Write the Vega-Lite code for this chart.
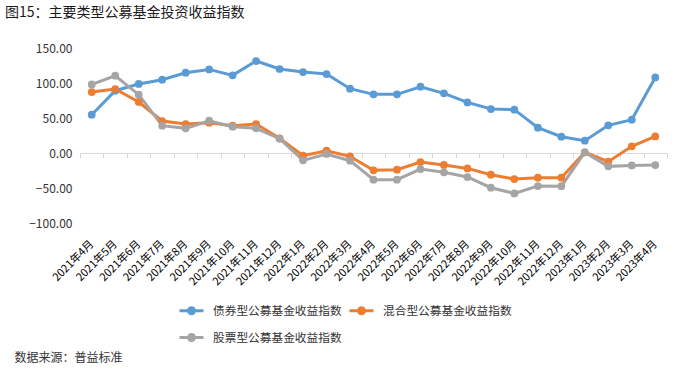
{
  "$schema": "https://vega.github.io/schema/vega-lite/v6.json",
  "width": 587,
  "height": 175,
  "autosize": {"type": "none"},
  "padding": {"left": 80, "top": 48, "right": 11, "bottom": 156},
  "background": "white",
  "title": {
    "text": "图15：主要类型公募基金投资收益指数",
    "anchor": "start",
    "frame": "group",
    "dx": -75,
    "offset": 22,
    "fontSize": 14,
    "fontWeight": "normal",
    "color": "#1a1a1a",
    "font": "Noto Sans CJK SC"
  },
  "data": {
    "values": [
      {"m": "2021年4月", "s": "债券型公募基金收益指数", "v": 54.7},
      {"m": "2021年5月", "s": "债券型公募基金收益指数", "v": 89.0},
      {"m": "2021年6月", "s": "债券型公募基金收益指数", "v": 98.6},
      {"m": "2021年7月", "s": "债券型公募基金收益指数", "v": 104.7},
      {"m": "2021年8月", "s": "债券型公募基金收益指数", "v": 114.7},
      {"m": "2021年9月", "s": "债券型公募基金收益指数", "v": 119.4},
      {"m": "2021年10月", "s": "债券型公募基金收益指数", "v": 110.9},
      {"m": "2021年11月", "s": "债券型公募基金收益指数", "v": 131.4},
      {"m": "2021年12月", "s": "债券型公募基金收益指数", "v": 120.0},
      {"m": "2022年1月", "s": "债券型公募基金收益指数", "v": 115.7},
      {"m": "2022年2月", "s": "债券型公募基金收益指数", "v": 112.8},
      {"m": "2022年3月", "s": "债券型公募基金收益指数", "v": 91.9},
      {"m": "2022年4月", "s": "债券型公募基金收益指数", "v": 83.8},
      {"m": "2022年5月", "s": "债券型公募基金收益指数", "v": 83.8},
      {"m": "2022年6月", "s": "债券型公募基金收益指数", "v": 94.7},
      {"m": "2022年7月", "s": "债券型公募基金收益指数", "v": 85.2},
      {"m": "2022年8月", "s": "债券型公募基金收益指数", "v": 72.3},
      {"m": "2022年9月", "s": "债券型公募基金收益指数", "v": 62.8},
      {"m": "2022年10月", "s": "债券型公募基金收益指数", "v": 61.9},
      {"m": "2022年11月", "s": "债券型公募基金收益指数", "v": 36.1},
      {"m": "2022年12月", "s": "债券型公募基金收益指数", "v": 23.3},
      {"m": "2023年1月", "s": "债券型公募基金收益指数", "v": 17.6},
      {"m": "2023年2月", "s": "债券型公募基金收益指数", "v": 39.5},
      {"m": "2023年3月", "s": "债券型公募基金收益指数", "v": 47.6},
      {"m": "2023年4月", "s": "债券型公募基金收益指数", "v": 108.0},
      {"m": "2021年4月", "s": "混合型公募基金收益指数", "v": 87.1},
      {"m": "2021年5月", "s": "混合型公募基金收益指数", "v": 91.4},
      {"m": "2021年6月", "s": "混合型公募基金收益指数", "v": 72.9},
      {"m": "2021年7月", "s": "混合型公募基金收益指数", "v": 45.7},
      {"m": "2021年8月", "s": "混合型公募基金收益指数", "v": 41.4},
      {"m": "2021年9月", "s": "混合型公募基金收益指数", "v": 43.3},
      {"m": "2021年10月", "s": "混合型公募基金收益指数", "v": 39.0},
      {"m": "2021年11月", "s": "混合型公募基金收益指数", "v": 41.4},
      {"m": "2021年12月", "s": "混合型公募基金收益指数", "v": 21.0},
      {"m": "2022年1月", "s": "混合型公募基金收益指数", "v": -3.9},
      {"m": "2022年2月", "s": "混合型公募基金收益指数", "v": 3.3},
      {"m": "2022年3月", "s": "混合型公募基金收益指数", "v": -4.8},
      {"m": "2022年4月", "s": "混合型公募基金收益指数", "v": -24.8},
      {"m": "2022年5月", "s": "混合型公募基金收益指数", "v": -23.9},
      {"m": "2022年6月", "s": "混合型公募基金收益指数", "v": -12.9},
      {"m": "2022年7月", "s": "混合型公募基金收益指数", "v": -17.1},
      {"m": "2022年8月", "s": "混合型公募基金收益指数", "v": -22.0},
      {"m": "2022年9月", "s": "混合型公募基金收益指数", "v": -31.0},
      {"m": "2022年10月", "s": "混合型公募基金收益指数", "v": -37.2},
      {"m": "2022年11月", "s": "混合型公募基金收益指数", "v": -35.3},
      {"m": "2022年12月", "s": "混合型公募基金收益指数", "v": -35.3},
      {"m": "2023年1月", "s": "混合型公募基金收益指数", "v": 0.9},
      {"m": "2023年2月", "s": "混合型公募基金收益指数", "v": -12.4},
      {"m": "2023年3月", "s": "混合型公募基金收益指数", "v": 9.5},
      {"m": "2023年4月", "s": "混合型公募基金收益指数", "v": 23.7},
      {"m": "2021年4月", "s": "股票型公募基金收益指数", "v": 98.0},
      {"m": "2021年5月", "s": "股票型公募基金收益指数", "v": 110.4},
      {"m": "2021年6月", "s": "股票型公募基金收益指数", "v": 83.3},
      {"m": "2021年7月", "s": "股票型公募基金收益指数", "v": 39.0},
      {"m": "2021年8月", "s": "股票型公募基金收益指数", "v": 35.2},
      {"m": "2021年9月", "s": "股票型公募基金收益指数", "v": 46.1},
      {"m": "2021年10月", "s": "股票型公募基金收益指数", "v": 37.6},
      {"m": "2021年11月", "s": "股票型公募基金收益指数", "v": 35.2},
      {"m": "2021年12月", "s": "股票型公募基金收益指数", "v": 20.4},
      {"m": "2022年1月", "s": "股票型公募基金收益指数", "v": -10.5},
      {"m": "2022年2月", "s": "股票型公募基金收益指数", "v": -1.4},
      {"m": "2022年3月", "s": "股票型公募基金收益指数", "v": -11.0},
      {"m": "2022年4月", "s": "股票型公募基金收益指数", "v": -38.1},
      {"m": "2022年5月", "s": "股票型公募基金收益指数", "v": -38.1},
      {"m": "2022年6月", "s": "股票型公募基金收益指数", "v": -22.9},
      {"m": "2022年7月", "s": "股票型公募基金收益指数", "v": -27.6},
      {"m": "2022年8月", "s": "股票型公募基金收益指数", "v": -34.3},
      {"m": "2022年9月", "s": "股票型公募基金收益指数", "v": -49.6},
      {"m": "2022年10月", "s": "股票型公募基金收益指数", "v": -57.7},
      {"m": "2022年11月", "s": "股票型公募基金收益指数", "v": -47.2},
      {"m": "2022年12月", "s": "股票型公募基金收益指数", "v": -47.4},
      {"m": "2023年1月", "s": "股票型公募基金收益指数", "v": 0.9},
      {"m": "2023年2月", "s": "股票型公募基金收益指数", "v": -19.1},
      {"m": "2023年3月", "s": "股票型公募基金收益指数", "v": -17.7},
      {"m": "2023年4月", "s": "股票型公募基金收益指数", "v": -17.2}
    ]
  },
  "mark": {"type": "line", "strokeWidth": 3, "point": {"filled": true, "size": 60}},
  "encoding": {
    "x": {
      "field": "m",
      "type": "ordinal",
      "sort": null,
      "scale": {"type": "band", "paddingInner": 0, "paddingOuter": 0},
      "axis": {
        "orient": "bottom",
        "offset": -70,
        "domain": true,
        "domainColor": "#D9D9D9",
        "domainWidth": 1,
        "ticks": true,
        "tickBand": "extent",
        "tickColor": "#D9D9D9",
        "tickSize": 5,
        "grid": false,
        "labelAngle": -45,
        "labelAlign": "right",
        "labelBaseline": "middle",
        "labelPadding": 84,
        "labelFontSize": 11,
        "labelColor": "#000000",
        "labelOverlap": false,
        "title": "数据来源：普益标准",
        "titleX": -66,
        "titleY": 204,
        "titleAlign": "left",
        "titleAnchor": "start",
        "titleBaseline": "middle",
        "titleFontSize": 12,
        "titleFontWeight": "normal",
        "titleColor": "#333333"
      }
    },
    "y": {
      "field": "v",
      "type": "quantitative",
      "scale": {"domain": [-100, 150], "nice": false, "zero": false},
      "axis": {
        "values": [-100, -50, 0, 50, 100, 150],
        "format": ".2f",
        "domain": false,
        "ticks": false,
        "grid": false,
        "labelPadding": 8,
        "labelFontSize": 12,
        "labelColor": "#333333",
        "title": null
      }
    },
    "color": {
      "field": "s",
      "type": "nominal",
      "scale": {
        "domain": ["债券型公募基金收益指数", "混合型公募基金收益指数", "股票型公募基金收益指数"],
        "range": ["#5B9BD5", "#ED7D31", "#A5A5A5"]
      },
      "legend": {
        "orient": "none",
        "legendX": 104,
        "legendY": 255,
        "direction": "horizontal",
        "columns": 2,
        "title": null,
        "symbolType": "M-2,0H2M-0.5,0A0.5,0.5 0 1,0 0.5,0A0.5,0.5 0 1,0 -0.5,0Z",
        "symbolSize": 144,
        "symbolStrokeWidth": 3,
        "labelFontSize": 11.7,
        "labelColor": "#333333",
        "labelOffset": 14,
        "columnPadding": 1,
        "rowPadding": 8,
        "padding": 0,
        "encode": {
          "symbols": {
            "update": {
              "fill": {"scale": "color", "field": "value"},
              "stroke": {"scale": "color", "field": "value"},
              "opacity": {"value": 1}
            }
          }
        }
      }
    }
  },
  "config": {
    "font": "Noto Sans CJK SC",
    "view": {"stroke": null}
  }
}
